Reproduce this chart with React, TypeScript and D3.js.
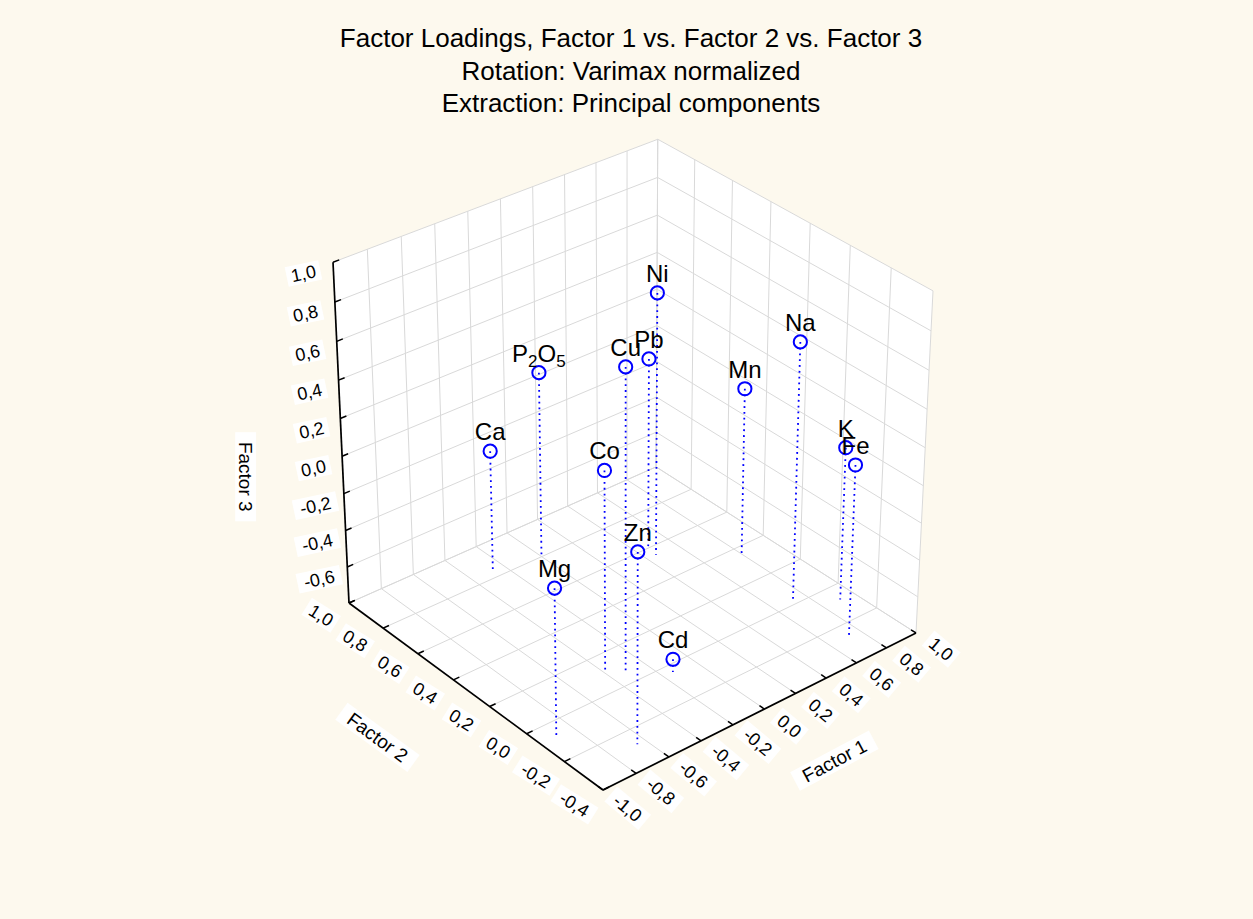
import React from "react";
import * as d3 from "d3";

// ---------- data ----------
const titleLines = [
  "Factor Loadings, Factor 1 vs. Factor 2 vs. Factor 3",
  "Rotation: Varimax normalized",
  "Extraction: Principal components",
];

const variables = ["Ni", "Na", "Mn", "K", "Fe", "Ca", "P2O5", "Cu", "Pb", "Co", "Zn", "Mg", "Cd"];
const factor1 = [0.46, 0.72, 0.79, 0.91, 0.72, -0.27, 0.01, -0.32, 0.48, -0.39, -0.65, -0.9, -0.14];
const factor2 = [0.55, 0.02, 0.35, -0.08, -0.27, 0.84, 0.81, 0.06, 0.61, 0.11, -0.28, -0.07, -0.04];
const factor3 = [0.62, 0.59, 0.12, 0.03, 0.13, -0.14, 0.2, 0.8, 0.23, 0.27, 0.21, -0.02, -0.73];

const f1Ticks = [-1.0, -0.8, -0.6, -0.4, -0.2, 0.0, 0.2, 0.4, 0.6, 0.8, 1.0];
const f2Ticks = [-0.4, -0.2, 0.0, 0.2, 0.4, 0.6, 0.8, 1.0];
const f3Ticks = [-0.8, -0.6, -0.4, -0.2, 0.0, 0.2, 0.4, 0.6, 0.8, 1.0];
const f3LabelTicks = [-0.6, -0.4, -0.2, 0.0, 0.2, 0.4, 0.6, 0.8, 1.0];

const axisTitles = ["Factor 1", "Factor 2", "Factor 3"];

// ---------- projection (3-point perspective) ----------
const W = 1253;
const H = 919;
const ORIGIN = [603, 790];
const VP_X = [5724, -1779];
const WX = 0.0651;
const VP_Y = [-3067, -1912];
const WY = 0.07436;
const VP_Z = [625, 6488];
const WZ = -0.0588;

const uS = d3.scaleLinear().domain([-1, 1]).range([0, 1]);
const vS = d3.scaleLinear().domain([-0.4, 1]).range([0, 1]);
const wS = d3.scaleLinear().domain([-0.8, 1]).range([0, 1]);

function proj(u: number, v: number, w: number): [number, number] {
  const a = WX * u, b = WY * v, c = WZ * w;
  const D = 1 + a + b + c;
  const x = (VP_X[0] * a + VP_Y[0] * b + VP_Z[0] * c + ORIGIN[0]) / D;
  const y = (VP_X[1] * a + VP_Y[1] * b + VP_Z[1] * c + ORIGIN[1]) / D;
  return [x, y];
}
const P = (f1: number, f2: number, f3: number) => proj(uS(f1), vS(f2), wS(f3));

const fmt = (v: number) => (Math.abs(v) < 1e-9 ? 0 : v).toFixed(1).replace(".", ",");

const FONT = "'Liberation Sans', Arial, Helvetica, sans-serif";
const BG = "#fdf9ee";
const GRID = "#d9d9d9";
const BLUE = "#0000ff";

function poly(pts: [number, number][]) {
  return pts.map((p) => p.join(",")).join(" ");
}

function BoxLabel({ x, y, angle, text, size }: { x: number; y: number; angle: number; text: string; size: number }) {
  const w = text.length * size * 0.56 + 4;
  const h = size * 1.1;
  return (
    <g transform={`translate(${x},${y}) rotate(${angle})`}>
      <rect x={-w / 2} y={-h / 2} width={w} height={h} fill="#ffffff" />
      <text x={0} y={0} dy="0.35em" textAnchor="middle" fontSize={size} fontFamily={FONT} fill="#000">
        {text}
      </text>
    </g>
  );
}

export default function App() {
  const [d1a, d1b] = uS.domain();
  const [d2a, d2b] = vS.domain();
  const [d3a, d3b] = wS.domain();

  const grid: [number, number][][] = [];
  // left wall (Factor 2 = max)
  f1Ticks.forEach((t) => grid.push([P(t, d2b, d3a), P(t, d2b, d3b)]));
  f3Ticks.forEach((t) => grid.push([P(d1a, d2b, t), P(d1b, d2b, t)]));
  // right wall (Factor 1 = max)
  f2Ticks.forEach((t) => grid.push([P(d1b, t, d3a), P(d1b, t, d3b)]));
  f3Ticks.forEach((t) => grid.push([P(d1b, d2a, t), P(d1b, d2b, t)]));
  // floor
  f1Ticks.forEach((t) => grid.push([P(t, d2a, d3a), P(t, d2b, d3a)]));
  f2Ticks.forEach((t) => grid.push([P(d1a, t, d3a), P(d1b, t, d3a)]));

  const leftWall = [P(d1a, d2b, d3a), P(d1b, d2b, d3a), P(d1b, d2b, d3b), P(d1a, d2b, d3b)];
  const rightWall = [P(d1b, d2a, d3a), P(d1b, d2b, d3a), P(d1b, d2b, d3b), P(d1b, d2a, d3b)];
  const floor = [P(d1a, d2a, d3a), P(d1b, d2a, d3a), P(d1b, d2b, d3a), P(d1a, d2b, d3a)];

  const tickLen = 0.018;
  const axes: [number, number][][] = [
    [P(d1a, d2b, d3a), P(d1a, d2b, d3b)],
    [P(d1a, d2a, d3a), P(d1a, d2b, d3a)],
    [P(d1a, d2a, d3a), P(d1b, d2a, d3a)],
  ];
  const ticks: [number, number][][] = [];
  f3Ticks.forEach((t) => ticks.push([proj(0, 1, wS(t)), proj(tickLen, 1, wS(t))]));
  f2Ticks.forEach((t) => ticks.push([proj(0, vS(t), 0), proj(tickLen, vS(t), 0)]));
  f1Ticks.forEach((t) => ticks.push([proj(uS(t), 0, 0), proj(uS(t), tickLen, 0)]));

  const tickSize = 18;
  const titleSize = 19;

  const points = variables.map((name, i) => {
    const p = P(factor1[i], factor2[i], factor3[i]);
    const f = P(factor1[i], factor2[i], d3a);
    return { name, p, f };
  });

  const f1TitlePos = proj(0.49, -0.26, 0);
  const f2TitlePos = proj(-0.28, 0.5, 0);
  const f3TitlePos = proj(-0.28, 1, 0.5);

  return (
    <svg
      width={W}
      height={H}
      style={{ position: "absolute", left: 0, top: 0, display: "block" }}
      xmlns="http://www.w3.org/2000/svg"
    >
      <rect x={0} y={0} width={W} height={H} fill={BG} />

      {titleLines.map((t, i) => (
        <text key={i} x={631} y={47 + i * 32.5} textAnchor="middle" fontSize={26} fontFamily={FONT} fill="#000">
          {t}
        </text>
      ))}

      <polygon points={poly(leftWall)} fill="#fff" />
      <polygon points={poly(rightWall)} fill="#fff" />
      <polygon points={poly(floor)} fill="#fff" />

      {grid.map((l, i) => (
        <line key={i} x1={l[0][0]} y1={l[0][1]} x2={l[1][0]} y2={l[1][1]} stroke={GRID} strokeWidth={1} />
      ))}

      {axes.map((l, i) => (
        <line key={i} x1={l[0][0]} y1={l[0][1]} x2={l[1][0]} y2={l[1][1]} stroke="#000" strokeWidth={1.7} />
      ))}
      {ticks.map((l, i) => (
        <line key={i} x1={l[0][0]} y1={l[0][1]} x2={l[1][0]} y2={l[1][1]} stroke="#000" strokeWidth={1.5} />
      ))}

      {f3LabelTicks.map((t, i) => {
        const [x, y] = proj(-0.085, 1, wS(t));
        return <BoxLabel key={i} x={x} y={y} angle={-12} text={fmt(t)} size={tickSize} />;
      })}
      {f2Ticks.map((t, i) => {
        const [x, y] = proj(-0.085, vS(t), 0);
        return <BoxLabel key={i} x={x} y={y} angle={32} text={fmt(t)} size={tickSize} />;
      })}
      {f1Ticks.map((t, i) => {
        const [x, y] = proj(uS(t), -0.09, 0);
        return <BoxLabel key={i} x={x} y={y} angle={40} text={fmt(t)} size={tickSize} />;
      })}

      <BoxLabel x={f1TitlePos[0]} y={f1TitlePos[1]} angle={-28} text={axisTitles[0]} size={titleSize} />
      <BoxLabel x={f2TitlePos[0]} y={f2TitlePos[1]} angle={36} text={axisTitles[1]} size={titleSize} />
      <BoxLabel x={f3TitlePos[0]} y={f3TitlePos[1]} angle={90} text={axisTitles[2]} size={titleSize} />

      {points.map((pt, i) => (
        <line
          key={"d" + i}
          x1={pt.p[0]}
          y1={pt.p[1]}
          x2={pt.f[0]}
          y2={pt.f[1]}
          stroke={BLUE}
          strokeWidth={1.8}
          strokeDasharray="1.8 4"
        />
      ))}
      {points.map((pt, i) => (
        <circle key={"c" + i} cx={pt.p[0]} cy={pt.p[1]} r={6.6} fill="none" stroke={BLUE} strokeWidth={2} />
      ))}
      {points.map((pt, i) => (
        <text
          key={"t" + i}
          x={pt.p[0]}
          y={pt.p[1] - 11}
          textAnchor="middle"
          fontSize={24}
          fontFamily={FONT}
          fill="#000"
        >
          {pt.name === "P2O5" ? (
            <>
              P<tspan fontSize={17} dy={5}>2</tspan>
              <tspan dy={-5}>O</tspan>
              <tspan fontSize={17} dy={5}>5</tspan>
            </>
          ) : (
            pt.name
          )}
        </text>
      ))}
    </svg>
  );
}
